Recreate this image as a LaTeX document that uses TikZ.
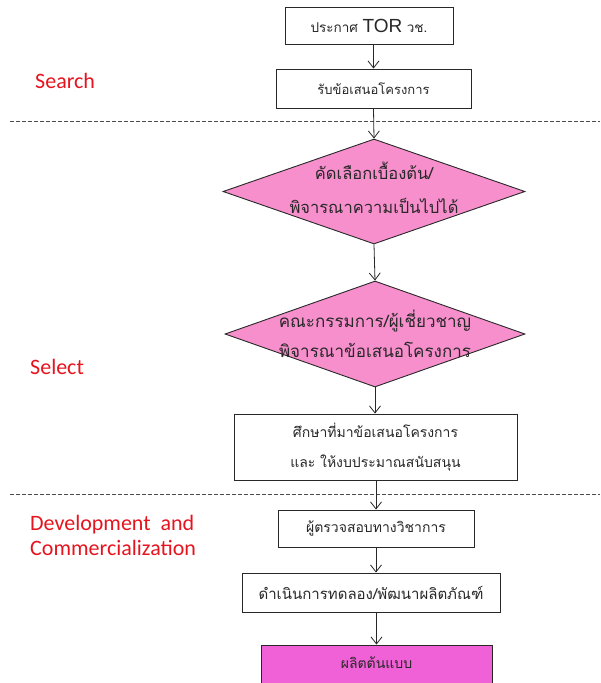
\documentclass[tikz,border=0pt]{standalone}
\usepackage{fontspec}
\usetikzlibrary{arrows.meta,shapes.geometric}
\newfontfamily\thaifont[Script=Thai]{Loma}
\newfontfamily\labfont{Carlito}
\newfontfamily\latfont{Liberation Sans}
\definecolor{phasered}{RGB}{230,20,30}
\definecolor{diapink}{RGB}{246,143,204}
\definecolor{protomag}{RGB}{240,96,214}
\definecolor{inkgray}{RGB}{40,40,40}
\newcommand{\thsize}[1]{\thaifont\fontsize{#1}{2.1\dimexpr #1pt\relax}\selectfont}
\tikzset{
  stepbox/.style={draw=inkgray, line width=0.9pt, fill=white, inner sep=0pt,
    align=center, font=\thsize{13}, text=inkgray},
  decision/.style={diamond, draw=inkgray, line width=0.9pt, fill=diapink, inner sep=0pt},
  dectext/.style={align=center, font=\thaifont\fontsize{16.5}{34}\selectfont, text=inkgray},
  phase/.style={anchor=west, inner sep=0pt, text=phasered, align=left,
    font=\labfont\fontsize{22}{25}\selectfont},
  arr/.style={draw=inkgray, line width=0.8pt,
    -{Straight Barb[length=7pt,width=11pt,line width=0.8pt]}},
  divider/.style={draw=black!70, line width=0.8pt, dash pattern=on 4pt off 2pt}
}
\begin{document}
\begin{tikzpicture}[x=1pt,y=-1pt]
\useasboundingbox (0,0) rectangle (600,683);

% phase dividers
\draw[divider] (10,121) -- (600,121);
\draw[divider] (10,494) -- (600,494);

% phase labels
\node[phase] (ps) at (35,81) {Search};
\node[phase] (pl) at (30,367) {Select};
\node[phase] (pd) at (30,535) {Development\ \ and\\Commercialization};

% flow steps
\node[stepbox, font=\thsize{13.5}, minimum width=168pt, minimum height=37pt] (b1) at (369,25.5)
  {ประกาศ {\latfont\fontsize{19}{20}\selectfont TOR} วช.};
\node[stepbox, minimum width=195pt, minimum height=39pt] (b2) at (373.5,88.5)
  {รับข้อเสนอโครงการ};

\node[decision, minimum width=302pt, minimum height=105pt] (d1) at (374,191.5) {};
\node[dectext] (t1) at ([yshift=3.5pt]d1) {คัดเลือกเบื้องต้น/\\พิจารณาความเป็นไปได้};

\node[decision, minimum width=300pt, minimum height=106pt] (d2) at (375,334) {};
\node[dectext, font=\thaifont\fontsize{17}{30}\selectfont] (t2) at ([yshift=0.5pt]d2)
  {คณะกรรมการ/ผู้เชี่ยวชาญ\\พิจารณาข้อเสนอโครงการ};

\node[stepbox, minimum width=283pt, minimum height=66pt, font=\thaifont\fontsize{14}{30}\selectfont]
  (b3) at (375.5,447) {ศึกษาที่มาข้อเสนอโครงการ\\และ ให้งบประมาณสนับสนุน};

\node[stepbox, font=\thsize{14}, minimum width=196pt, minimum height=37pt] (b4) at (376,528.5)
  {ผู้ตรวจสอบทางวิชาการ};
\node[stepbox, font=\thsize{15}, minimum width=258pt, minimum height=39pt] (b5) at (371,592.5)
  {ดำเนินการทดลอง/พัฒนาผลิตภัณฑ์};
\node[stepbox, fill=protomag, minimum width=231pt, minimum height=42pt] (b6) at (376.5,666) {};
\node[font=\thsize{14}, text=inkgray] (t6) at ([yshift=3pt]b6) {ผลิตต้นแบบ};

% connectors
\draw[arr] (b1.south -| b2.north) -- (b2.north);
\draw[arr] (b2.south) -- (d1.north);
\draw[arr] (d1.south) -- (d2.north);
\draw[arr] (d2.south) -- (d2.south |- b3.north);
\draw[arr] (b3.south -| b4.north) -- (b4.north);
\draw[arr] (b4.south) -- (b4.south |- b5.north);
\draw[arr] (b5.south -| b6.north) -- (b6.north);
\end{tikzpicture}
\end{document}
